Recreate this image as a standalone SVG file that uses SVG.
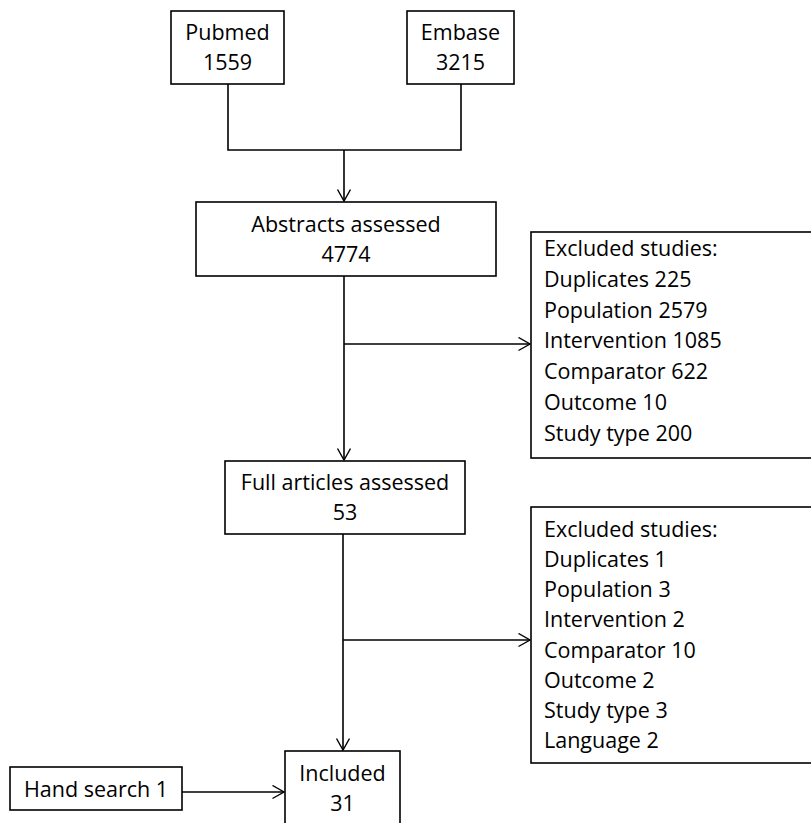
<svg xmlns="http://www.w3.org/2000/svg" width="811" height="823" viewBox="0 0 811 823">
<style>
.box{fill:#fff;stroke:#000;stroke-width:1.6}
.t{font-family:"Open Sans","Liberation Sans",sans-serif;font-size:21.5px;fill:#000}
.c{text-anchor:middle}
.ln{fill:none;stroke:#000;stroke-width:1.6}
</style>
<defs>
<marker id="arr" markerUnits="userSpaceOnUse" markerWidth="16" markerHeight="16" refX="12" refY="7" orient="auto">
<path d="M0.5,0.5 L12,7 L0.5,13.5" fill="none" stroke="#000" stroke-width="1.4"/>
</marker>
</defs>
<rect width="811" height="823" fill="#fff"/>
<g id="connectors">
<polyline class="ln" points="228,84 228,150 461,150 461,84"/>
<line class="ln" x1="344" y1="150" x2="344" y2="201" marker-end="url(#arr)"/>
<line class="ln" x1="344" y1="276" x2="344" y2="460" marker-end="url(#arr)"/>
<line class="ln" x1="344" y1="344" x2="530" y2="344" marker-end="url(#arr)"/>
<line class="ln" x1="343" y1="534" x2="343" y2="750" marker-end="url(#arr)"/>
<line class="ln" x1="343" y1="640" x2="530" y2="640" marker-end="url(#arr)"/>
<line class="ln" x1="182" y1="792" x2="284" y2="792" marker-end="url(#arr)"/>
</g>
<g id="pubmed">
<rect class="box" x="171" y="11" width="113" height="73"/>
<text class="t c" x="227.5" y="40">Pubmed</text>
<text class="t c" x="227.5" y="70">1559</text>
</g>
<g id="embase">
<rect class="box" x="407" y="11" width="107" height="73"/>
<text class="t c" x="460.5" y="40">Embase</text>
<text class="t c" x="460.5" y="70">3215</text>
</g>
<g id="abstracts">
<rect class="box" x="196" y="202" width="300" height="74"/>
<text class="t c" x="346" y="232">Abstracts assessed</text>
<text class="t c" x="346" y="262">4774</text>
</g>
<g id="excluded1">
<rect class="box" x="531" y="232" width="300" height="226"/>
<text class="t" x="544" y="256">Excluded studies:</text>
<text class="t" x="544" y="286.8">Duplicates 225</text>
<text class="t" x="544" y="317.6">Population 2579</text>
<text class="t" x="544" y="348.4">Intervention 1085</text>
<text class="t" x="544" y="379.2">Comparator 622</text>
<text class="t" x="544" y="410">Outcome 10</text>
<text class="t" x="544" y="440.8">Study type 200</text>
</g>
<g id="fullarticles">
<rect class="box" x="225" y="461" width="240" height="73"/>
<text class="t c" x="345" y="490">Full articles assessed</text>
<text class="t c" x="345" y="520">53</text>
</g>
<g id="excluded2">
<rect class="box" x="531" y="507" width="300" height="256"/>
<text class="t" x="544" y="536.7">Excluded studies:</text>
<text class="t" x="544" y="566.9">Duplicates 1</text>
<text class="t" x="544" y="597.1">Population 3</text>
<text class="t" x="544" y="627.3">Intervention 2</text>
<text class="t" x="544" y="657.5">Comparator 10</text>
<text class="t" x="544" y="687.7">Outcome 2</text>
<text class="t" x="544" y="717.9">Study type 3</text>
<text class="t" x="544" y="748.1">Language 2</text>
</g>
<g id="included">
<rect class="box" x="285" y="751" width="115" height="90"/>
<text class="t c" x="342.5" y="781">Included</text>
<text class="t c" x="342.5" y="811">31</text>
</g>
<g id="handsearch">
<rect class="box" x="10" y="767" width="172" height="43"/>
<text class="t c" x="96" y="797">Hand search 1</text>
</g>
</svg>
